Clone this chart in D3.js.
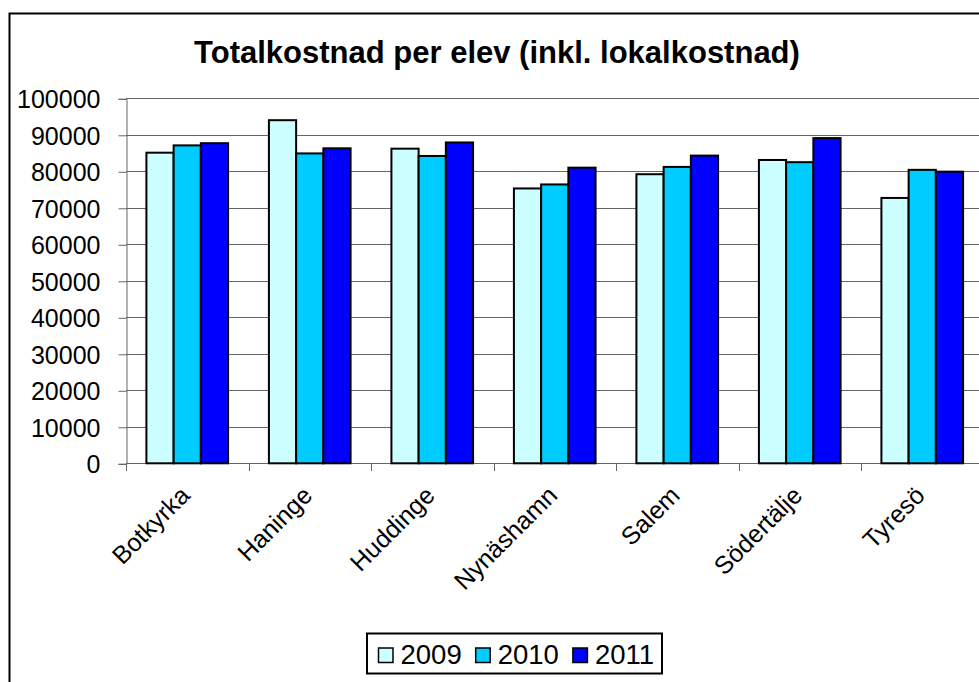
<!DOCTYPE html>
<html>
<head>
<meta charset="utf-8">
<script src="https://cdn.jsdelivr.net/npm/d3@7"></script>
<style>
  html, body { margin: 0; padding: 0; background: #fff; }
  svg { display: block; }
  text { font-family: Arial, "Liberation Sans", sans-serif; fill: #000; }
</style>
</head>
<body>
<svg id="chart" width="979" height="682"></svg>
<script>
const title = "Totalkostnad per elev (inkl. lokalkostnad)";
const categories = ["Botkyrka", "Haninge", "Huddinge", "Nynäshamn", "Salem", "Södertälje", "Tyresö"];
const seriesNames = ["2009", "2010", "2011"];
const values2009 = [85100, 94000, 86200, 75300, 79200, 83100, 72700];
const values2010 = [87100, 84900, 84200, 76400, 81200, 82500, 80400];
const values2011 = [87700, 86300, 87900, 81000, 84300, 89100, 79900];
const seriesColors = ["#CCFFFF", "#00CCFF", "#0000FF"];
const yTicks = [0, 10000, 20000, 30000, 40000, 50000, 60000, 70000, 80000, 90000, 100000];

const seriesValues = [values2009, values2010, values2011];
const svg = d3.select("#chart");

// outer frame (extends beyond the visible area on right and bottom)
svg.append("rect")
  .attr("x", 9.5).attr("y", 13.5)
  .attr("width", 1100).attr("height", 800)
  .attr("fill", "#fff").attr("stroke", "#000").attr("stroke-width", 2);

const plotLeft = 126, plotRight = 983.5, plotTop = 98.3, plotBottom = 463.3;

const x0 = d3.scaleBand().domain(categories).range([plotLeft, plotRight])
  .paddingInner(1/3).paddingOuter(1/6);
const x1 = d3.scaleBand().domain(seriesNames).range([0, x0.bandwidth()]);
const y = d3.scaleLinear().domain([0, 100000]).range([plotBottom, plotTop]);

// gridlines
svg.append("g").selectAll("line").data(yTicks.filter(d => d > 0)).join("line")
  .attr("x1", plotLeft).attr("x2", plotRight)
  .attr("y1", d => Math.round(y(d)) + 0.5).attr("y2", d => Math.round(y(d)) + 0.5)
  .attr("stroke", "#666").attr("stroke-width", 1);

// y axis
const yAxis = d3.axisLeft(y).tickValues(yTicks).tickSize(8).tickPadding(18)
  .tickFormat(d3.format("d"));
const gy = svg.append("g").attr("transform", `translate(${plotLeft + 0.5},0.5)`).call(yAxis);
gy.select(".domain").attr("stroke", "#666");
gy.selectAll(".tick line").attr("stroke", "#666");
gy.selectAll(".tick text").style("font-size", "25px").attr("dy", "0.36em");

// x axis baseline and ticks at category boundaries
const boundaries = d3.range(categories.length + 1).map(i => plotLeft + i * x0.step());
svg.append("line").attr("x1", plotLeft).attr("x2", plotRight)
  .attr("y1", Math.round(plotBottom) + 0.5).attr("y2", Math.round(plotBottom) + 0.5)
  .attr("stroke", "#666");
svg.append("g").selectAll("line").data(boundaries).join("line")
  .attr("x1", d => Math.round(d) + 0.5).attr("x2", d => Math.round(d) + 0.5)
  .attr("y1", Math.round(plotBottom)).attr("y2", Math.round(plotBottom) + 8)
  .attr("stroke", "#666");

// bars
const groups = svg.append("g").selectAll("g").data(categories).join("g")
  .attr("transform", d => `translate(${x0(d)},0)`);
groups.selectAll("rect")
  .data((c, i) => seriesNames.map((s, j) => ({ s, v: seriesValues[j][i], j })))
  .join("rect")
  .attr("x", d => x1(d.s))
  .attr("width", x1.bandwidth())
  .attr("y", d => y(d.v))
  .attr("height", d => plotBottom - y(d.v))
  .attr("fill", d => seriesColors[d.j])
  .attr("stroke", "#000").attr("stroke-width", 2);

// category labels
svg.append("g").selectAll("text").data(categories).join("text")
  .attr("transform", d => `translate(${x0(d) + x0.bandwidth() / 2 + 4},497) rotate(-45)`)
  .attr("text-anchor", "end")
  .style("font-size", "25px")
  .text(d => d);

// title
svg.append("text")
  .attr("x", 497).attr("y", 63)
  .attr("text-anchor", "middle")
  .style("font-size", "31px").style("font-weight", "bold")
  .text(title);

// legend
const legend = svg.append("g");
legend.append("rect")
  .attr("x", 367).attr("y", 633.5).attr("width", 295).attr("height", 40)
  .attr("fill", "#fff").attr("stroke", "#000").attr("stroke-width", 2);
const items = legend.selectAll("g.item").data(seriesNames).join("g")
  .attr("class", "item")
  .attr("transform", (d, i) => `translate(${378.5 + i * 97.2},0)`);
items.append("rect")
  .attr("x", 0).attr("y", 648).attr("width", 14.5).attr("height", 14.5)
  .attr("fill", (d, i) => seriesColors[i]).attr("stroke", "#000").attr("stroke-width", 1.5);
items.append("text")
  .attr("x", 22).attr("y", 664)
  .style("font-size", "27.5px")
  .text(d => d);
</script>
</body>
</html>
